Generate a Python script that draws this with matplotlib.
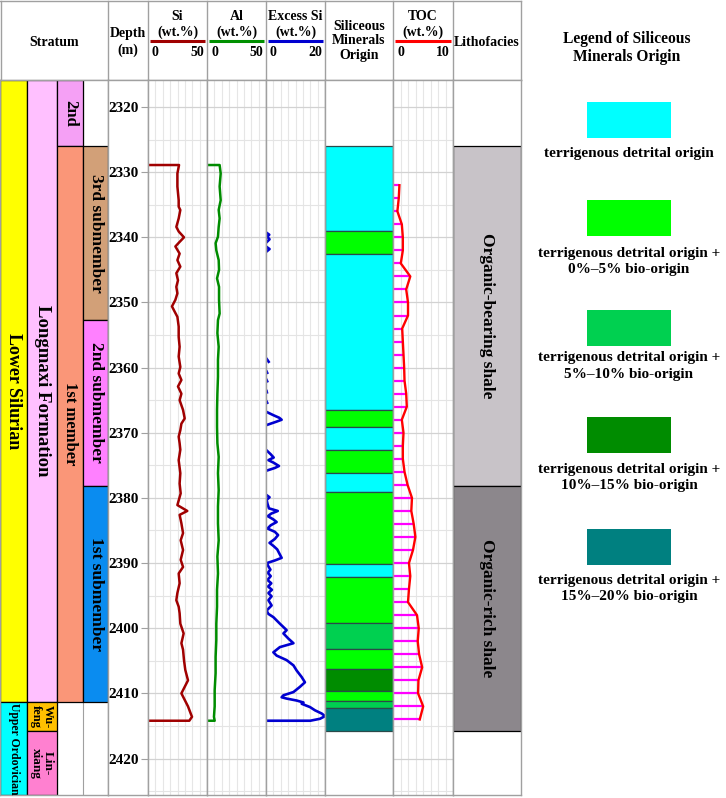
import numpy as np
import matplotlib
matplotlib.use('Agg')
import matplotlib.pyplot as plt
from matplotlib.patches import Rectangle

plt.rcParams['font.family'] = ['Liberation Serif', 'DejaVu Serif']
plt.rcParams['font.weight'] = 'bold'

nan = np.nan

# depth window of the log (m)
top_depth = 2315.85
base_depth = 2425.6
depth_ticks = [2320, 2330, 2340, 2350, 2360, 2370, 2380, 2390, 2400, 2410, 2420]

# stratigraphy
system_names = ['Lower Silurian', 'Upper Ordovician']
system_tops = [2315.85, 2411.3]
system_bases = [2411.3, 2425.6]
system_colors = ['#ffff00', '#00ffff']

formation_names = ['Longmaxi Formation', 'Wu-\nfeng', 'Lin-\nxiang']
formation_tops = [2315.85, 2411.3, 2415.8]
formation_bases = [2411.3, 2415.8, 2425.6]
formation_colors = ['#ffc0ff', '#ffc000', '#ff80d0']

member_names = ['2nd', '1st member']
member_tops = [2315.85, 2326.0]
member_bases = [2326.0, 2411.3]
member_colors = ['#f5a0f5', '#fa9678']

submember_names = ['3rd submember', '2nd submember', '1st submember']
submember_tops = [2326.0, 2352.7, 2378.1]
submember_bases = [2352.7, 2378.1, 2411.3]
submember_colors = ['#d2a078', '#ff80ff', '#0a8cf0']

# lithofacies
litho_names = ['Organic-bearing shale', 'Organic-rich shale']
litho_tops = [2326.0, 2378.1]
litho_bases = [2378.1, 2415.8]
litho_colors = ['#c8c3c8', '#8c878c']

# siliceous minerals origin (class index into origin_colors)
origin_tops = [2326.0, 2339.0, 2342.5, 2366.5, 2369.1, 2372.6, 2376.1, 2379.1,
               2390.2, 2392.2, 2399.2, 2403.2, 2406.2, 2409.7, 2411.2, 2412.2]
origin_bases = [2339.0, 2342.5, 2366.5, 2369.1, 2372.6, 2376.1, 2379.1, 2390.2,
                2392.2, 2399.2, 2403.2, 2406.2, 2409.7, 2411.2, 2412.2, 2415.8]
origin_class = [0, 1, 0, 1, 0, 1, 0, 1, 0, 1, 2, 1, 3, 1, 2, 4]
origin_colors = ['#00ffff', '#00ff00', '#00d050', '#008c00', '#008080']
origin_labels = ['terrigenous detrital origin',
                 'terrigenous detrital origin +\n0%\u20135% bio-origin',
                 'terrigenous detrital origin +\n5%\u201310% bio-origin',
                 'terrigenous detrital origin +\n10%\u201315% bio-origin',
                 'terrigenous detrital origin +\n15%\u201320% bio-origin']

# Si (wt.%)
si_depth = [2328.9, 2328.9, 2330.2, 2332.2, 2334.3, 2335.3, 2335.8, 2337.1, 2338.4, 2339.1,
            2340.0, 2340.7, 2341.4, 2342.5, 2343.5, 2344.5, 2345.5, 2346.6, 2347.6, 2348.6,
            2349.6, 2350.6, 2351.2, 2352.2, 2353.7, 2355.3, 2356.8, 2358.3, 2359.9, 2360.9,
            2361.9, 2362.9, 2364.0, 2365.0, 2366.5, 2367.8, 2368.6, 2369.6, 2370.6, 2371.6,
            2372.6, 2374.2, 2376.2, 2377.8, 2379.3, 2381.1, 2382.0, 2382.6, 2383.9, 2385.4,
            2386.5, 2388.0, 2389.5, 2390.6, 2391.6, 2393.1, 2394.6, 2395.7, 2396.7, 2397.7,
            2399.3, 2400.8, 2402.3, 2403.3, 2404.9, 2406.4, 2408.0, 2409.0, 2410.0, 2411.0,
            2412.0, 2413.1, 2413.6, 2414.2, 2414.2]
si_vals = [0, 26.3, 24.9, 24.9, 26.0, 26.0, 27.4, 26.0, 24.0, 26.0,
           30.5, 26.8, 23.2, 26.8, 24.9, 27.4, 24.0, 25.4, 24.0, 24.9,
           23.2, 20.3, 22.0, 24.9, 26.0, 26.0, 26.8, 26.0, 27.4, 26.0,
           28.3, 25.4, 28.3, 26.8, 29.7, 31.1, 28.3, 27.4, 26.0, 26.8,
           27.4, 26.0, 27.4, 26.8, 27.7, 24.9, 33.3, 26.8, 28.3, 29.7,
           27.7, 29.7, 27.7, 29.7, 26.0, 26.8, 24.9, 24.0, 26.0, 26.8,
           27.4, 30.2, 28.3, 29.7, 30.5, 31.6, 33.9, 31.1, 28.3, 31.1,
           33.9, 36.2, 37.3, 35.0, 0]

# Al (wt.%)
al_depth = [2328.9, 2328.9, 2330.2, 2332.2, 2334.3, 2335.8, 2337.1, 2338.4, 2339.9, 2340.9,
            2342.0, 2343.5, 2345.0, 2346.3, 2347.6, 2349.6, 2351.7, 2352.7, 2354.7, 2356.8,
            2358.8, 2361.4, 2364.0, 2366.5, 2369.1, 2371.6, 2373.7, 2376.2, 2378.8, 2381.3,
            2383.9, 2386.5, 2389.0, 2391.6, 2394.1, 2396.7, 2399.3, 2401.8, 2404.4, 2406.9,
            2409.5, 2412.0, 2413.6, 2414.2, 2414.2]
al_vals = [0, 10.7, 11.6, 10.7, 11.6, 9.9, 10.7, 9.9, 9.3, 7.3,
           7.9, 9.9, 10.2, 8.5, 10.2, 10.2, 10.7, 9.3, 8.8, 9.9,
           9.3, 9.3, 8.8, 8.5, 8.5, 8.8, 9.9, 9.3, 9.9, 9.3,
           9.3, 9.9, 8.8, 9.3, 8.5, 8.5, 7.9, 7.9, 7.3, 7.3,
           6.5, 6.5, 5.9, 6.5, 0]

# Excess Si (wt.%), gaps where no excess silica
ex_depth = [2339.3, 2339.6, 2339.9, 2340.3, 2340.7, nan,
            2341.5, 2341.8, 2342.1, nan,
            2358.7, 2359.1, nan, 2360.6, 2360.8, nan, 2361.9, 2362.1, nan,
            2363.6, 2363.8, nan, 2365.2, 2365.4, nan,
            2366.8, 2367.3, 2367.7, 2368.0, 2368.3, 2368.8, nan,
            2372.7, 2373.3, 2373.8, 2374.2, 2374.6, 2375.1, 2375.4, 2375.8, nan,
            2379.6, 2379.9, 2380.3, 2380.9, 2381.6, 2382.0, 2382.4, 2382.8, 2383.3, 2383.7,
            2384.2, 2384.7, 2385.2, 2385.7, 2386.3, 2386.9, 2387.4, 2387.9, 2388.6, 2389.2,
            2389.6, 2390.0, 2390.5, 2391.0, 2391.5, 2392.0, 2392.6, 2393.1, 2393.6, 2394.1,
            2394.6, 2395.1, 2395.7, 2396.5, 2397.3, 2397.8, 2398.3, 2399.3, 2400.3, 2400.8,
            2401.6, 2402.3, 2402.9, 2403.7, 2404.2, 2404.9, 2405.7, 2406.5, 2407.5, 2408.3,
            2409.0, 2409.8, 2410.3, 2410.6, 2410.8, 2411.1, 2411.4, 2411.6, 2412.1, 2412.6,
            2413.1, 2413.5, 2413.9, 2414.2, 2414.2]
ex_vals = [0.2, 1.1, 0.4, 1.2, 0.3, nan,
           0.3, 1.2, 0.4, nan,
           0.3, 0.9, nan, 0.2, 0.4, nan, 0.2, 0.4, nan,
           0.2, 0.3, nan, 0.2, 0.4, nan,
           0.2, 2.5, 4.5, 5.3, 3.5, 0.3, nan,
           0.2, 1.6, 2.6, 0.8, 2.6, 4.4, 3.0, 0.3, nan,
           0.3, 1.2, 0.2, 0.5, 1.0, 4.0, 1.8, 0.6, 2.5, 3.6,
           1.6, 0.5, 3.0, 4.1, 3.0, 1.2, 2.6, 3.8, 4.6, 5.3,
           3.0, 0.3, 0.8, 1.5, 0.6, 1.6, 0.5, 1.8, 0.7, 2.0,
           0.8, 1.9, 0.8, 1.9, 0.2, 0.8, 2.5, 4.7, 7.0, 5.9,
           7.6, 9.3, 4.7, 2.5, 3.6, 7.0, 9.3, 10.4, 12.1, 13.2,
           11.5, 9.3, 5.9, 5.3, 7.0, 10.4, 12.7, 12.1, 14.9, 16.6,
           18.9, 20.0, 18.3, 15.0, 0]

# TOC (wt.%), one sample every 2 m
toc_depth = [2332, 2334, 2336, 2338, 2340, 2342, 2344, 2346, 2348, 2350,
             2352, 2354, 2356, 2358, 2360, 2362, 2364, 2366, 2368, 2370,
             2372, 2374, 2376, 2378, 2380, 2382, 2384, 2386, 2388, 2390,
             2392, 2394, 2396, 2398, 2400, 2402, 2404, 2406, 2408, 2410,
             2412, 2414]
toc_vals = [1.07, 0.96, 0.73, 1.47, 1.64, 1.64, 1.30, 2.88, 2.20, 2.50,
            2.50, 1.53, 1.64, 1.75, 1.86, 1.92, 2.20, 2.30, 1.47, 1.75,
            1.64, 1.64, 1.92, 2.43, 3.16, 3.05, 3.45, 3.73, 3.33, 2.66,
            2.88, 2.66, 2.50, 4.00, 4.29, 4.12, 4.35, 4.86, 4.24, 4.18,
            5.03, 4.46]

# ---------------------------------------------------------------- layout
W, H = 726, 798
Y0, Y1 = 80, 795
frame = '#a0a0a0'

fig = plt.figure(figsize=(W / 100, H / 100), dpi=100)

# overlay in pixel units for headers and legend
ov = fig.add_axes([0, 0, 1, 1])
ov.set_xlim(0, W)
ov.set_ylim(H, 0)
ov.axis('off')

for x in [0.5, 108, 148, 207, 266, 325, 393, 453, 521]:
    ov.plot([x, x], [0.5, Y0], color=frame, lw=1)
ov.plot([0, 521], [0.5, 0.5], color=frame, lw=1)
ov.plot([0, 521], [Y0, Y0], color=frame, lw=1)

hfs = 10
ov.text(54, 42, 'Stratum', ha='center', va='center', fontsize=hfs)
ov.text(128, 42, 'Depth\n(m)', ha='center', va='center', fontsize=hfs, linespacing=1.35)
ov.text(359, 41, 'Siliceous\nMinerals\nOrigin', ha='center', va='center', fontsize=hfs,
        linespacing=1.15)
ov.text(487, 42, 'Lithofacies', ha='center', va='center', fontsize=hfs)

curve_heads = [('Si', 148, 207, '50', '#a00000'),
               ('Al', 207, 266, '50', '#009000'),
               ('Excess Si', 266, 325, '20', '#0000d0'),
               ('TOC', 393, 453, '10', '#ff0000')]
for name, x0, x1, top, col in curve_heads:
    xc = (x0 + x1) / 2
    ov.text(xc, 17, name, ha='center', va='center', fontsize=hfs)
    ov.text(xc, 32, '(wt.%)', ha='center', va='center', fontsize=hfs)
    ov.plot([x0 + 2, x1 - 2], [41, 41], color=col, lw=2.2, solid_capstyle='butt')
    ov.text(x0 + 4, 52, '0', ha='left', va='center', fontsize=hfs)
    ov.text(x1 - 3, 52, top, ha='right', va='center', fontsize=hfs)

# legend of siliceous minerals origin
ov.text(627, 48, 'Legend of Siliceous\nMinerals Origin', ha='center', va='center',
        fontsize=11.2, linespacing=1.2)
legend_tops = [102, 200, 310, 417, 529]
label_centers = [153, 261.5, 366, 477.5, 588.5]
for col, lab, yt, yc in zip(origin_colors, origin_labels, legend_tops, label_centers):
    ov.add_patch(Rectangle((587, yt), 84, 36, facecolor=col, edgecolor='none'))
    ov.text(629, yc, lab, ha='center', va='center', fontsize=11, linespacing=1.32)


def pane(x0, x1):
    ax = fig.add_axes([x0 / W, 1 - Y1 / H, (x1 - x0) / W, (Y1 - Y0) / H])
    ax.set_ylim(base_depth, top_depth)
    ax.tick_params(which='both', length=0, labelbottom=False, labelleft=False)
    ax.set_xticks([])
    ax.set_yticks([])
    for s in ax.spines.values():
        s.set_color(frame)
        s.set_linewidth(1)
    return ax


def track(x0, x1, xmax):
    ax = pane(x0, x1)
    ax.set_xlim(0, xmax)
    ax.set_xticks(np.linspace(0, xmax, 9))
    ax.set_yticks(depth_ticks)
    ax.set_yticks([2325, 2335, 2345, 2355, 2365, 2375, 2385, 2395, 2405, 2415, 2425], minor=True)
    ax.tick_params(which='both', length=0, labelbottom=False, labelleft=False)
    ax.grid(True, axis='x', color='#e6e6e6', lw=0.8)
    ax.grid(True, axis='y', which='major', color='#d2d2d2', lw=0.9)
    ax.grid(True, axis='y', which='minor', color='#e4e4e4', lw=0.8)
    ax.set_axisbelow(True)
    return ax


def units(ax, x0, x1, names, tops, bases, colors, sizes):
    tops = np.array(tops)
    bases = np.array(bases)
    ax.barh((tops + bases) / 2, x1 - x0, height=bases - tops, left=x0, color=colors,
            edgecolor='black', linewidth=0.9)
    for name, t, b, fs in zip(names, tops, bases, sizes):
        ax.text((x0 + x1) / 2, (t + b) / 2, name, rotation=270, ha='center', va='center',
                fontsize=fs, linespacing=0.95)


# stratum column
ax_st = pane(0, 108)
ax_st.set_xlim(0, 108)
for x in [27, 57, 83]:
    ax_st.axvline(x, color=frame, lw=0.8, zorder=0)
units(ax_st, 0, 27, system_names, system_tops, system_bases, system_colors, [13, 8.5])
units(ax_st, 27, 57, formation_names, formation_tops, formation_bases, formation_colors,
      [13.5, 9, 9.5])
units(ax_st, 57, 83, member_names, member_tops, member_bases, member_colors, [12, 12])
units(ax_st, 83, 108, submember_names, submember_tops, submember_bases, submember_colors,
      [12.5, 12.5, 12.5])

# depth column
ax_d = pane(108, 148)

# Si
ax_si = track(148, 207, 50)
ax_si.tick_params(axis='y', which='major', length=5, color=frame, labelleft=True,
                  labelsize=11, pad=1.5)
ax_si.plot(si_vals, si_depth, color='#a00000', lw=1.8)

# Al
ax_al = track(207, 266, 50)
ax_al.plot(al_vals, al_depth, color='#008c00', lw=1.8)

# Excess Si
ax_ex = track(266, 325, 20)
ax_ex.plot(ex_vals, ex_depth, color='#0000d0', lw=1.9)

# siliceous minerals origin
ax_sil = pane(325, 393)
ax_sil.set_xlim(0, 1)
ot = np.array(origin_tops)
ob = np.array(origin_bases)
ax_sil.barh((ot + ob) / 2, 1, height=ob - ot, left=0,
            color=[origin_colors[c] for c in origin_class], edgecolor='#2a4a4a', linewidth=0.9)

# TOC
ax_toc = track(393, 453, 10)
ax_toc.hlines(toc_depth, 0, toc_vals, color='#ff00ff', lw=1.6)
ax_toc.plot(toc_vals, toc_depth, color='#ff0000', lw=1.7)

# lithofacies
ax_li = pane(453, 521)
ax_li.set_xlim(0, 68)
units(ax_li, 0, 68, litho_names, litho_tops, litho_bases, litho_colors, [12.5, 12.5])
for s in ax_li.spines.values():
    s.set_zorder(5)

fig.savefig('out.png', dpi=100)
